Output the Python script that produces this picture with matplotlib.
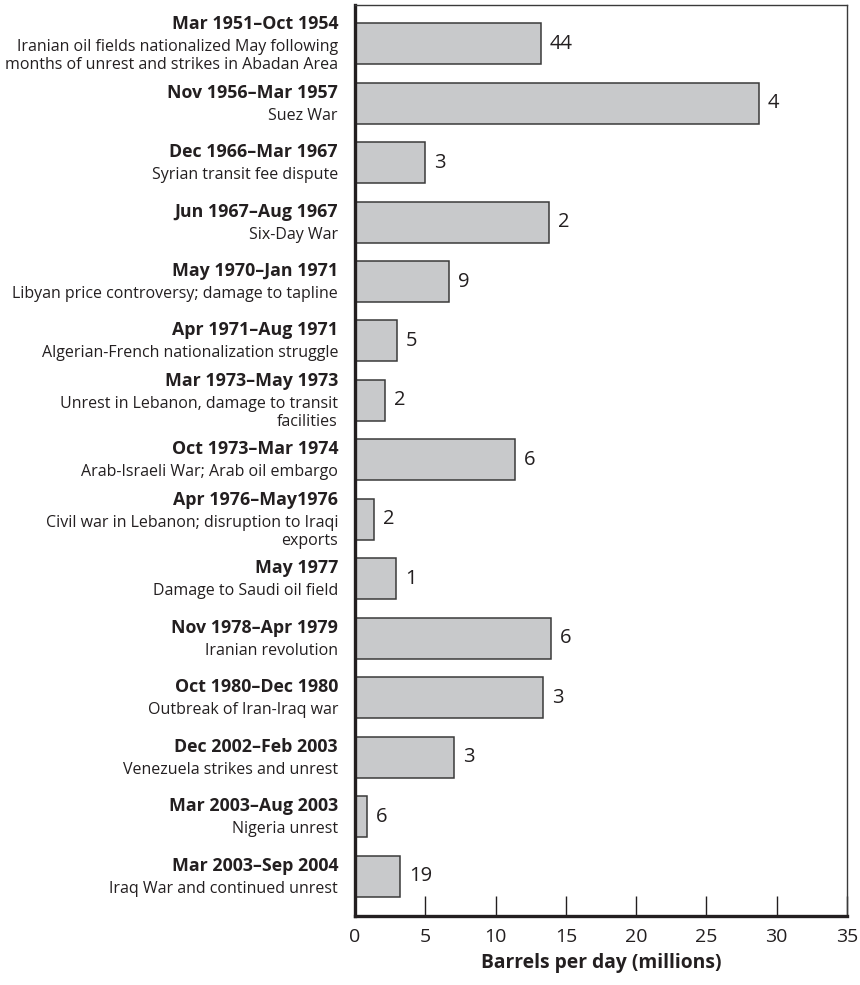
import matplotlib
matplotlib.use("Agg")
import matplotlib.pyplot as plt

periods = ["Mar 1951\u2013Oct 1954", "Nov 1956\u2013Mar 1957", "Dec 1966\u2013Mar 1967",
           "Jun 1967\u2013Aug 1967", "May 1970\u2013Jan 1971", "Apr 1971\u2013Aug 1971",
           "Mar 1973\u2013May 1973", "Oct 1973\u2013Mar 1974", "Apr 1976\u2013May1976",
           "May 1977", "Nov 1978\u2013Apr 1979", "Oct 1980\u2013Dec 1980",
           "Dec 2002\u2013Feb 2003", "Mar 2003\u2013Aug 2003", "Mar 2003\u2013Sep 2004"]
descriptions = [
    ["Iranian oil fields nationalized May following", "months of unrest and strikes in Abadan Area"],
    ["Suez War"],
    ["Syrian transit fee dispute"],
    ["Six-Day War"],
    ["Libyan price controversy; damage to tapline"],
    ["Algerian-French nationalization struggle"],
    ["Unrest in Lebanon, damage to transit", "facilities"],
    ["Arab-Israeli War; Arab oil embargo"],
    ["Civil war in Lebanon; disruption to Iraqi", "exports"],
    ["Damage to Saudi oil field"],
    ["Iranian revolution"],
    ["Outbreak of Iran-Iraq war"],
    ["Venezuela strikes and unrest"],
    ["Nigeria unrest"],
    ["Iraq War and continued unrest"],
]
values = [13.23, 28.73, 4.98, 13.80, 6.71, 2.99, 2.16, 11.38, 1.33, 2.94,
          13.92, 13.39, 7.04, 0.88, 3.22]
durations = ["44", "4", "3", "2", "9", "5", "2", "6", "2", "1", "6", "3", "3", "6", "19"]
xticks = [0, 5, 10, 15, 20, 25, 30, 35]
xlabel = "Barrels per day (millions)"

FONT = "Open Sans"
TXT = "#231f20"
plt.rcParams["font.family"] = [FONT, "DejaVu Sans"]

fig = plt.figure(figsize=(8.6, 9.85), dpi=100)
ax = fig.add_axes([355 / 860, 1 - 916 / 985, 492 / 860, (916 - 5) / 985])

y = list(range(len(values)))
ax.barh(y, values, height=0.69, color="#c8c9cb", edgecolor="#3a3a3a", linewidth=1.1, zorder=2)
ax.set_xlim(0, 35)
ax.set_ylim(14.67, -0.65)

px = 72 / 100.0
for i, (v, d) in enumerate(zip(values, durations)):
    ax.annotate(d, xy=(v, i), xytext=(9 * px, 0), textcoords="offset points",
                va="center", ha="left", fontsize=14.5, color=TXT)

gap1 = 23
lsp = 17.5
for i, (p, desc) in enumerate(zip(periods, descriptions)):
    n = len(desc)
    last = gap1 + lsp * (n - 1)
    c = last / 2.0 - 1
    ax.annotate(p, xy=(0, i), xycoords=("axes fraction", "data"),
                xytext=(-17 * px, c * px), textcoords="offset points",
                ha="right", va="center", fontsize=12.8, fontweight="bold", color=TXT)
    for k, line in enumerate(desc):
        off = gap1 + lsp * k
        ax.annotate(line, xy=(0, i), xycoords=("axes fraction", "data"),
                    xytext=(-17 * px, (c - off) * px), textcoords="offset points",
                    ha="right", va="center", fontsize=11.5, color=TXT)

ax.set_yticks([])
ax.set_xticks(xticks)
ax.set_xticklabels([str(t) for t in xticks], fontsize=14, color=TXT)
ax.tick_params(axis="x", direction="in", length=14.4, width=1.0, color="#231f20", pad=9)
ax.set_xlabel(xlabel, fontsize=13.9, fontweight="bold", color=TXT, labelpad=5)

for s in ["left", "bottom"]:
    ax.spines[s].set_linewidth(2.4)
    ax.spines[s].set_color("#231f20")
for s in ["top", "right"]:
    ax.spines[s].set_linewidth(1.0)
    ax.spines[s].set_color("#3a3a3a")

fig.savefig("out.png", dpi=100)
